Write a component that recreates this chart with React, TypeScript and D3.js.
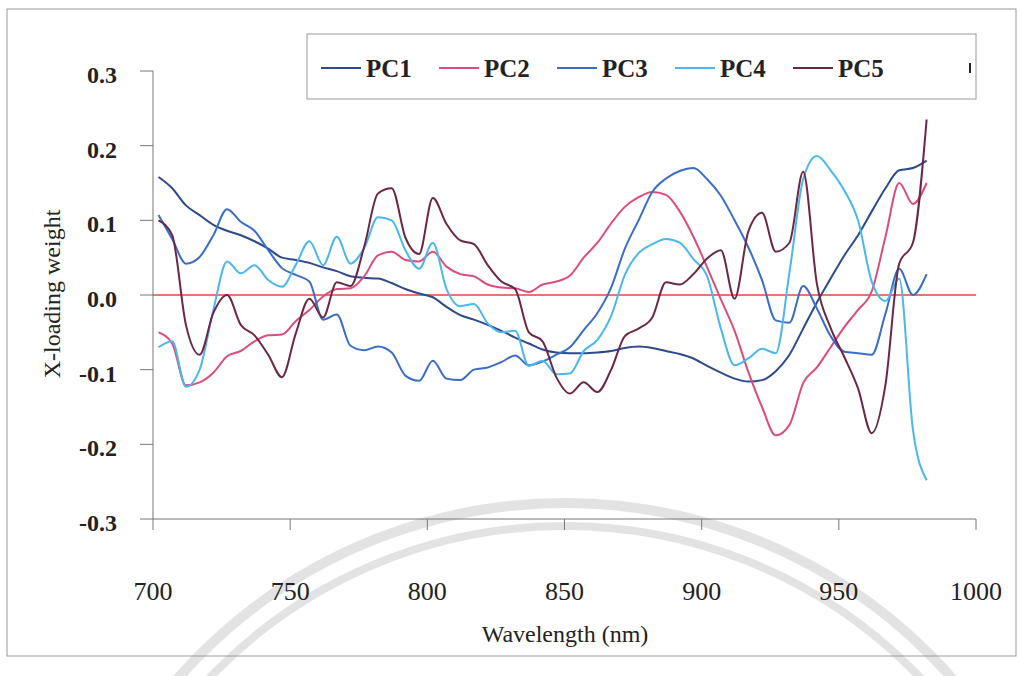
import { useEffect } from 'react';
import * as d3 from 'd3';

// wavelength grid (nm) the loadings were read at
const WAVELENGTHS = [
  702, 707, 712, 717, 722, 727, 732, 737, 742, 747, 752, 757, 762, 767, 772, 777, 782, 787, 792,
  797, 802, 807, 812, 817, 822, 827, 832, 837, 842, 847, 852, 857, 862, 867, 872, 877, 882, 887,
  892, 897, 902, 907, 912, 917, 922, 927, 932, 937, 942, 947, 952, 957, 962, 967, 972, 977, 982,
];

const PC1 = [
  0.158, 0.143, 0.12, 0.107, 0.094, 0.086, 0.08, 0.072, 0.062, 0.05, 0.047, 0.043, 0.037, 0.032,
  0.025, 0.023, 0.022, 0.016, 0.008, 0.002, -0.003, -0.016, -0.027, -0.033, -0.04, -0.048, -0.057,
  -0.065, -0.073, -0.077, -0.078, -0.078, -0.077, -0.075, -0.071, -0.069, -0.071, -0.075, -0.079,
  -0.085, -0.095, -0.104, -0.112, -0.116, -0.114, -0.102, -0.08, -0.045, -0.01, 0.022, 0.053, 0.08,
  0.112, 0.143, 0.167, 0.17, 0.18,
];

const PC2 = [
  -0.05, -0.065, -0.121, -0.117, -0.104, -0.082, -0.075, -0.062, -0.054, -0.053, -0.035, -0.02,
  -0.002, 0.008, 0.009, 0.025, 0.053, 0.058, 0.047, 0.045, 0.058, 0.038, 0.028, 0.025, 0.014, 0.01,
  0.009, 0.004, 0.014, 0.018, 0.026, 0.05, 0.07, 0.096, 0.118, 0.131, 0.138, 0.134, 0.112, 0.078,
  0.037, -0.006, -0.048, -0.103, -0.15, -0.188, -0.174, -0.118, -0.097, -0.07, -0.043, -0.02, 0.005,
  0.078, 0.15, 0.122, 0.15,
];

const PC3 = [
  0.107, 0.075, 0.042, 0.051, 0.08, 0.115, 0.098, 0.086, 0.06, 0.036, 0.027, 0.018, -0.033, -0.026,
  -0.068, -0.074, -0.069, -0.077, -0.108, -0.115, -0.088, -0.112, -0.114, -0.1, -0.097, -0.09,
  -0.081, -0.094, -0.089, -0.08, -0.07, -0.047, -0.024, 0.01, 0.062, 0.1, 0.138, 0.156, 0.166,
  0.17, 0.155, 0.133, 0.1, 0.064, 0.02, -0.034, -0.037, 0.012, -0.018, -0.055, -0.076, -0.078,
  -0.08, -0.025, 0.035, 0.0, 0.028,
];

const PC4 = [
  -0.07, -0.062, -0.123, -0.1, -0.02, 0.045, 0.029, 0.04, 0.02, 0.011, 0.04, 0.072, 0.04, 0.078,
  0.042, 0.063, 0.104, 0.1, 0.06, 0.035, 0.07, 0.008, -0.015, -0.012, -0.038, -0.05, -0.048, -0.095,
  -0.088, -0.106, -0.105, -0.075, -0.06, -0.028, 0.027, 0.056, 0.068, 0.075, 0.07, 0.048, 0.025,
  -0.045, -0.094, -0.085, -0.072, -0.078, 0.03, 0.155, 0.186, 0.167, 0.14, 0.1, 0.018, -0.008,
  0.022, -0.18, -0.248,
];

const PC5 = [
  0.1, 0.08, -0.04, -0.08, -0.024, 0.0, -0.04, -0.054, -0.08, -0.11, -0.052, -0.005, -0.03, 0.017,
  0.012, 0.065, 0.136, 0.143, 0.077, 0.055, 0.13, 0.095, 0.073, 0.068, 0.04, 0.018, 0.008, -0.05,
  -0.062, -0.11, -0.132, -0.117, -0.13, -0.1, -0.055, -0.045, -0.03, 0.017, 0.014, 0.028, 0.049,
  0.06, -0.005, 0.085, 0.11, 0.058, 0.07, 0.165, 0.015, -0.044, -0.083, -0.125, -0.185, -0.12, 0.042,
  0.07, 0.235,
];

const SERIES_NAMES = ['PC1', 'PC2', 'PC3', 'PC4', 'PC5'];
const SERIES_COLORS = ['#2d4a8c', '#dc4d7b', '#3a6ec6', '#4cb7ec', '#6c2748'];

const X_TICKS = [700, 750, 800, 850, 900, 950, 1000];
const Y_TICKS = [0.3, 0.2, 0.1, 0.0, -0.1, -0.2, -0.3];

const W = 1023;
const H = 676;
const FONT = '"Liberation Serif", "Times New Roman", serif';

export default function App() {
  useEffect(() => {
    document.body.style.margin = '0';
  }, []);

  const x = d3.scaleLinear().domain([700, 1000]).range([153, 976]);
  const y = d3.scaleLinear().domain([-0.3, 0.3]).range([519, 71]);

  const line = d3
    .line<number>()
    .x((_, i) => x(WAVELENGTHS[i]))
    .y((d) => y(d))
    .curve(d3.curveMonotoneX);

  const seriesValues = [PC1, PC2, PC3, PC4, PC5];

  return (
    <svg width={W} height={H} style={{ display: 'block', background: '#fff' }}>
      {/* faint watermark arcs */}
      <circle cx={565} cy={1018} r={515} fill="none" stroke="#e3e3e3" strokeWidth={10} />
      <circle cx={565} cy={1018} r={492} fill="none" stroke="#e3e3e3" strokeWidth={8} />

      {/* outer frame */}
      <rect x={7} y={9} width={1009} height={647} fill="none" stroke="#9a9a9a" strokeWidth={1} />

      {/* y axis */}
      <line x1={153} x2={153} y1={y(0.3)} y2={y(-0.3)} stroke="#777" strokeWidth={1} />
      {Y_TICKS.map((t) => (
        <g key={t}>
          <line x1={140} x2={153} y1={y(t)} y2={y(t)} stroke="#777" strokeWidth={1} />
          <text
            x={117}
            y={y(t) + 12}
            textAnchor="end"
            fontFamily={FONT}
            fontWeight="bold"
            fontSize={24}
            fill="#222"
          >
            {t.toFixed(1)}
          </text>
        </g>
      ))}

      {/* x axis */}
      <line x1={x(700)} x2={x(1000)} y1={y(-0.3)} y2={y(-0.3)} stroke="#777" strokeWidth={1} />
      {X_TICKS.map((t) => (
        <g key={t}>
          <line x1={x(t)} x2={x(t)} y1={y(-0.3)} y2={y(-0.3) + 11} stroke="#777" strokeWidth={1} />
          <text
            x={x(t)}
            y={600}
            textAnchor="middle"
            fontFamily={FONT}
            fontSize={26}
            fill="#222"
          >
            {t}
          </text>
        </g>
      ))}

      <text x={565} y={642} textAnchor="middle" fontFamily={FONT} fontSize={24} fill="#222">
        Wavelength (nm)
      </text>
      <text
        transform={`translate(60,294) rotate(-90)`}
        textAnchor="middle"
        fontFamily={FONT}
        fontSize={24}
        fill="#222"
      >
        X-loading weight
      </text>

      {/* zero line */}
      <line x1={x(700)} x2={x(1000)} y1={y(0)} y2={y(0)} stroke="#e2473b" strokeWidth={1.6} />

      {/* series */}
      {seriesValues.map((vals, i) => (
        <path
          key={SERIES_NAMES[i]}
          d={line(vals) ?? ''}
          fill="none"
          stroke={SERIES_COLORS[i]}
          strokeWidth={2}
          strokeLinejoin="round"
        />
      ))}

      {/* legend */}
      <rect x={307} y={34} width={669} height={65} fill="#fff" stroke="#9a9a9a" strokeWidth={1} />
      {SERIES_NAMES.map((name, i) => {
        const lx = 321 + i * 118;
        return (
          <g key={name}>
            <line x1={lx} x2={lx + 40} y1={68} y2={68} stroke={SERIES_COLORS[i]} strokeWidth={2} />
            <text x={lx + 45} y={77} fontFamily={FONT} fontWeight="bold" fontSize={25} fill="#222">
              {name}
            </text>
          </g>
        );
      })}
      <rect x={969} y={63} width={2} height={10} fill="#222" />
    </svg>
  );
}
